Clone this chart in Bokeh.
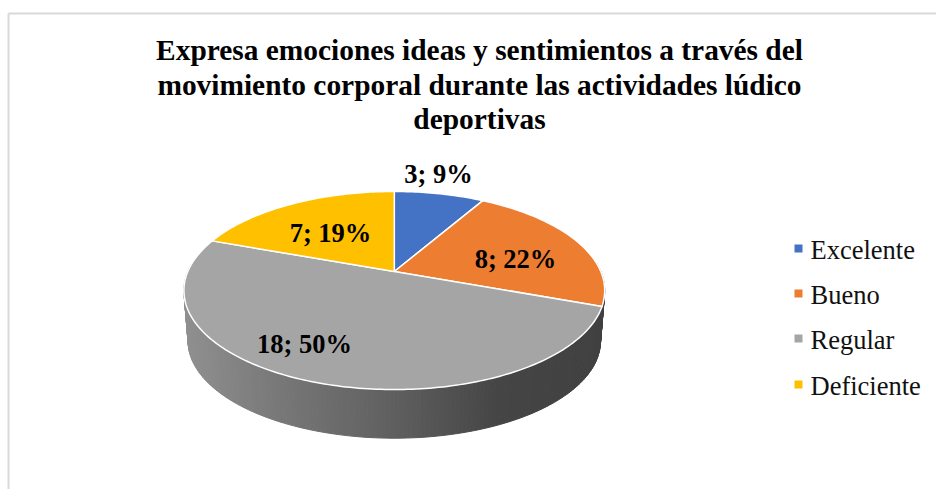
import math
from bokeh.plotting import figure
from bokeh.embed import file_html
from bokeh.resources import INLINE
from bokeh.core.properties import value

title_lines = ["Expresa emociones ideas y sentimientos a través del",
               "movimiento corporal durante las actividades lúdico",
               "deportivas"]
categories = ["Excelente", "Bueno", "Regular", "Deficiente"]
counts = [3, 8, 18, 7]
percents = [9, 22, 50, 19]
colors = ["#4472C4", "#ED7D31", "#A5A5A5", "#FFC000"]

# layout (page pixels)
W, H = 936, 489
CX, CY, K, A, B = 394.8, 272.0, 0.192, 95.4, 206.5
DEPTH, SHRINK = 51.0, 0.98
label_pos = [(439, 174), (516, 259), (305, 344), (331, 233)]
legend_y = [249, 294, 339, 385]
title_y = [50, 85, 119]
side_stops = [(185, (0x90, 0x90, 0x90)), (280, (0x78, 0x78, 0x78)), (395, (0x5f, 0x5f, 0x5f)),
              (500, (0x45, 0x45, 0x45)), (605, (0x40, 0x40, 0x40))]

p = figure(width=W, height=H, x_range=(1, W + 1), y_range=(H + 1, 1), output_backend="svg",
           toolbar_location=None, min_border=0, outline_line_color=None, background_fill_color="white")
p.axis.visible = False
p.grid.visible = False


def project(deg, depth=0.0, s=1.0):
    t = math.radians(deg)
    u, v = math.sin(t), math.cos(t)
    d = 1 + K * v
    return CX + s * B * u / d, CY + depth - s * A * v / d


def side_color(x):
    for (x0, c0), (x1, c1) in zip(side_stops, side_stops[1:]):
        if x <= x1:
            f = max(0.0, (x - x0) / (x1 - x0))
            return "#%02x%02x%02x" % tuple(round(a + (b - a) * f) for a, b in zip(c0, c1))
    return "#404040"


# frame
p.line([9, 9], [14, H + 1], line_color="#d9d9d9", line_width=2)
p.line([9, W + 1], [14, 14], line_color="#d9d9d9", line_width=2)

# side wall, a strip per degree of the visible front arc
xs, ys, cs = [], [], []
for d in range(85, 275):
    a0, a1 = project(d), project(d + 1)
    b0, b1 = project(d, DEPTH, SHRINK), project(d + 1, DEPTH, SHRINK)
    xs.append([a0[0], a1[0], b1[0], b0[0]])
    ys.append([a0[1], a1[1], b1[1], b0[1]])
    cs.append(side_color((a0[0] + b0[0]) / 2))
p.patches(xs, ys, fill_color=cs, line_color=cs, line_width=1)

# top surface
total = sum(counts)
start = 0.0
xs, ys = [], []
for c in counts:
    sweep = 360.0 * c / total
    n = max(2, int(sweep))
    pts = [project(start + sweep * i / n) for i in range(n + 1)]
    xs.append([CX] + [q[0] for q in pts])
    ys.append([CY] + [q[1] for q in pts])
    start += sweep
p.patches(xs, ys, fill_color=colors, line_color="white", line_width=1.5, line_join="round")

serif = value("Liberation Serif")
p.text([480] * 3, title_y, text=title_lines, text_font=serif, text_font_style="bold",
       text_font_size="29.4px", text_color="black", text_align="center", text_baseline="middle")
p.text([q[0] for q in label_pos], [q[1] for q in label_pos],
       text=[f"{c}; {q}%" for c, q in zip(counts, percents)], text_font=serif, text_font_style="bold",
       text_font_size="26.5px", text_color="black", text_align="center", text_baseline="middle")

# legend
p.rect([799] * 4, legend_y, width=8, height=8, fill_color=colors, line_color=None)
p.text([811] * 4, [y + 1 for y in legend_y], text=categories, text_font=serif, text_font_size="26.5px",
       text_color="#111111", text_align="left", text_baseline="middle")

open("out.html", "w").write(file_html(p, INLINE))
